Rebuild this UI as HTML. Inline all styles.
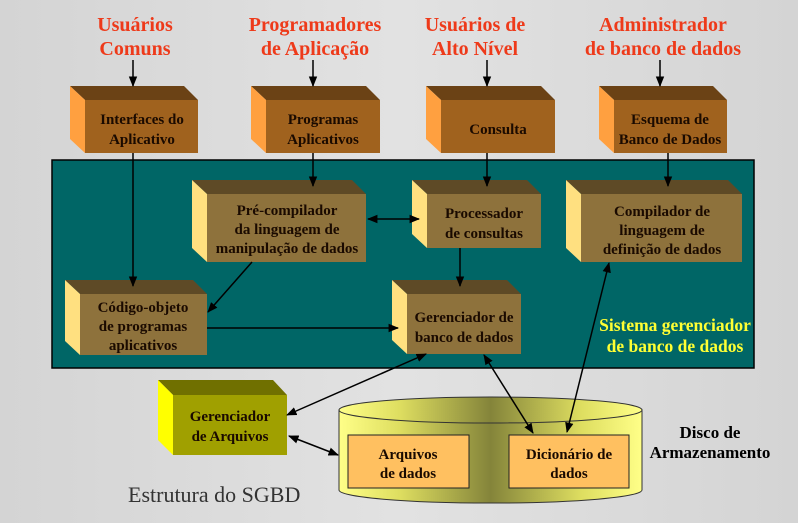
<!DOCTYPE html>
<html><head><meta charset="utf-8"><style>
html,body{margin:0;padding:0;}
body{width:798px;height:523px;overflow:hidden;}
svg text{font-family:"Liberation Serif",serif;font-weight:bold;}
</style></head><body>
<svg width="798" height="523" viewBox="0 0 798 523" xmlns="http://www.w3.org/2000/svg">
<defs>
<linearGradient id="bg" x1="0" y1="0" x2="1" y2="0">
<stop offset="0" stop-color="#d4d4d4"/><stop offset="0.5" stop-color="#e2e2e2"/><stop offset="1" stop-color="#d4d4d4"/></linearGradient>
<linearGradient id="cyl" x1="0" y1="0" x2="1" y2="0">
<stop offset="0" stop-color="#ffff88"/><stop offset="0.2" stop-color="#dede60"/><stop offset="0.5" stop-color="#84843a"/><stop offset="0.8" stop-color="#dede60"/><stop offset="1" stop-color="#ffff88"/></linearGradient>
<marker id="a" viewBox="0 0 10 10" refX="9" refY="5" markerWidth="7" markerHeight="7" orient="auto-start-reverse"><path d="M0,1 L10,5 L0,9 z" fill="#000"/></marker>
</defs>
<rect width="798" height="523" fill="url(#bg)"/>
<rect x="52" y="160" width="702" height="208" fill="#006666" stroke="#000" stroke-width="1.5"/>

<g fill="#ee3a1a" font-size="20" text-anchor="middle">
<text x="135" y="31">Usuários</text><text x="135" y="55">Comuns</text>
<text x="315" y="31">Programadores</text><text x="315" y="55">de Aplicação</text>
<text x="475" y="31">Usuários de</text><text x="475" y="55">Alto Nível</text>
<text x="663" y="31">Administrador</text><text x="663" y="55">de banco de dados</text>
</g>

<g font-size="15" text-anchor="middle" fill="#1a0a00">
<polygon points="70,86 184,86 198,100 85,100" fill="#6b4215"/>
<polygon points="70,86 85,100 85,153 70,139" fill="#ffa040"/>
<rect x="85" y="100" width="113" height="53" fill="#a0621e"/>
<text x="142" y="124">Interfaces do</text><text x="142" y="144">Aplicativo</text>
<polygon points="251,86 366,86 380,100 266,100" fill="#6b4215"/>
<polygon points="251,86 266,100 266,153 251,139" fill="#ffa040"/>
<rect x="266" y="100" width="114" height="53" fill="#a0621e"/>
<text x="323" y="124">Programas</text><text x="323" y="144">Aplicativos</text>
<polygon points="426,86 541,86 555,100 441,100" fill="#6b4215"/>
<polygon points="426,86 441,100 441,153 426,139" fill="#ffa040"/>
<rect x="441" y="100" width="114" height="53" fill="#a0621e"/>
<text x="498" y="134">Consulta</text>
<polygon points="599,86 713,86 727,100 614,100" fill="#6b4215"/>
<polygon points="599,86 614,100 614,153 599,139" fill="#ffa040"/>
<rect x="614" y="100" width="113" height="53" fill="#a0621e"/>
<text x="670" y="124">Esquema de</text><text x="670" y="144">Banco de Dados</text>

<polygon points="192,180 352,180 366,194 207,194" fill="#5e4a26"/>
<polygon points="192,180 207,194 207,262 192,248" fill="#ffe080"/>
<rect x="207" y="194" width="159" height="68" fill="#8e723c"/>
<text x="287" y="215">Pré-compilador</text><text x="287" y="234">da linguagem de</text><text x="287" y="253">manipulação de dados</text>

<polygon points="412,180 527,180 541,194 427,194" fill="#5e4a26"/>
<polygon points="412,180 427,194 427,248 412,234" fill="#ffe080"/>
<rect x="427" y="194" width="114" height="54" fill="#8e723c"/>
<text x="484" y="218">Processador</text><text x="484" y="238">de consultas</text>

<polygon points="566,180 728,180 742,194 581,194" fill="#5e4a26"/>
<polygon points="566,180 581,194 581,262 566,248" fill="#ffe080"/>
<rect x="581" y="194" width="161" height="68" fill="#8e723c"/>
<text x="662" y="216">Compilador de</text><text x="662" y="235">linguagem de</text><text x="662" y="254">definição de dados</text>

<polygon points="65,280 193,280 207,294 80,294" fill="#5e4a26"/>
<polygon points="65,280 80,294 80,355 65,341" fill="#ffe080"/>
<rect x="80" y="294" width="127" height="61" fill="#8e723c"/>
<text x="143" y="312">Código-objeto</text><text x="143" y="331">de programas</text><text x="143" y="350">aplicativos</text>

<polygon points="392,280 507,280 521,294 407,294" fill="#5e4a26"/>
<polygon points="392,280 407,294 407,354 392,340" fill="#ffe080"/>
<rect x="407" y="294" width="114" height="60" fill="#8e723c"/>
<text x="464" y="322">Gerenciador de</text><text x="464" y="342">banco de dados</text>

<polygon points="158,380 273,380 287,395 173,395" fill="#707000"/>
<polygon points="158,380 173,395 173,455 158,440" fill="#ffff00"/>
<rect x="173" y="395" width="114" height="60" fill="#a0a000"/>
<text x="230" y="421">Gerenciador</text><text x="230" y="441">de Arquivos</text>

<path d="M339,410 L339,490 A151,13 0 0 0 642,490 L642,410 Z" fill="url(#cyl)" stroke="#333" stroke-width="1"/>
<ellipse cx="490.5" cy="410" rx="151.5" ry="13" fill="url(#cyl)" stroke="#333" stroke-width="1"/>
<rect x="348" y="435" width="121" height="53" fill="#ffc060" stroke="#222"/>
<rect x="509" y="435" width="120" height="53" fill="#ffc060" stroke="#222"/>
<text x="408" y="459">Arquivos</text><text x="408" y="478">de dados</text>
<text x="569" y="459">Dicionário de</text><text x="569" y="478">dados</text>
</g>

<g fill="#ffff33" font-size="17.5" text-anchor="middle">
<text x="675" y="331">Sistema gerenciador</text><text x="675" y="352">de banco de dados</text>
</g>
<g fill="#000" font-size="17" text-anchor="middle">
<text x="710" y="438">Disco de</text><text x="710" y="458">Armazenamento</text>
</g>
<text x="128" y="502" font-size="22" fill="#333" style="font-weight:normal">Estrutura do SGBD</text>

<g stroke="#000" stroke-width="1.5" fill="none">
<line x1="133" y1="60" x2="133" y2="86" marker-end="url(#a)"/>
<line x1="313" y1="60" x2="313" y2="86" marker-end="url(#a)"/>
<line x1="487" y1="60" x2="487" y2="86" marker-end="url(#a)"/>
<line x1="660" y1="60" x2="660" y2="86" marker-end="url(#a)"/>
<line x1="133" y1="153" x2="133" y2="286" marker-end="url(#a)"/>
<line x1="313" y1="153" x2="313" y2="186" marker-end="url(#a)"/>
<line x1="487" y1="153" x2="487" y2="186" marker-end="url(#a)"/>
<line x1="668" y1="153" x2="668" y2="186" marker-end="url(#a)"/>
<line x1="368" y1="219" x2="419" y2="219" marker-start="url(#a)" marker-end="url(#a)"/>
<line x1="460" y1="248" x2="460" y2="286" marker-end="url(#a)"/>
<line x1="252" y1="262" x2="208" y2="312" marker-end="url(#a)"/>
<line x1="207" y1="328" x2="398" y2="328" marker-end="url(#a)"/>
<line x1="287" y1="415" x2="426" y2="354" marker-start="url(#a)" marker-end="url(#a)"/>
<line x1="484" y1="355" x2="533" y2="433" marker-start="url(#a)" marker-end="url(#a)"/>
<line x1="567" y1="432" x2="609" y2="263" marker-start="url(#a)" marker-end="url(#a)"/>
<line x1="289" y1="436" x2="338" y2="455" marker-start="url(#a)" marker-end="url(#a)"/>
</g>
</svg>
</body></html>
